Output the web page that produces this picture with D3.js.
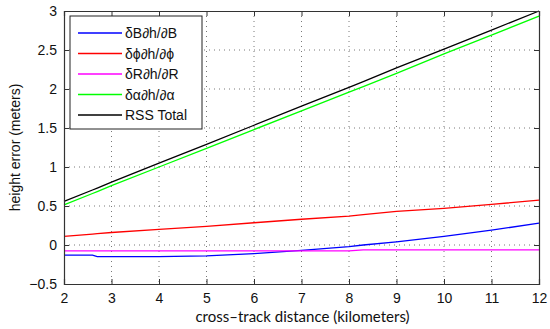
<!DOCTYPE html>
<html>
<head>
<meta charset="utf-8">
<script src="https://cdn.jsdelivr.net/npm/d3@7"></script>
<style>
  body { margin: 0; background: #fff; }
  svg { display: block; }
</style>
</head>
<body>
<div id="chart"></div>
<script>
// cross-track distance (km)
const distance = [2, 2.6, 2.7, 3, 4, 5, 6, 7, 8, 8.3, 9, 10, 11, 12];

const errB     = [-0.13, -0.13, -0.15, -0.15, -0.15, -0.14, -0.11, -0.07, -0.02, 0.0, 0.04, 0.11, 0.19, 0.28];
const errPhi   = [0.11, 0.14, 0.145, 0.16, 0.20, 0.24, 0.285, 0.33, 0.37, 0.39, 0.43, 0.47, 0.52, 0.575];
const errR     = [-0.075, -0.075, -0.075, -0.075, -0.075, -0.075, -0.075, -0.075, -0.075, -0.062, -0.062, -0.062, -0.062, -0.062];
const errAlpha = [0.515, 0.66, 0.685, 0.76, 1.0, 1.24, 1.48, 1.72, 1.96, 2.03, 2.2, 2.45, 2.69, 2.935];
const rssTotal = [0.56, 0.705, 0.73, 0.805, 1.05, 1.29, 1.535, 1.78, 2.02, 2.095, 2.27, 2.51, 2.755, 3.0];

const seriesNames = ["\u03B4B\u2202h/\u2202B", "\u03B4\u03D5\u2202h/\u2202\u03D5", "\u03B4R\u2202h/\u2202R", "\u03B4\u03B1\u2202h/\u2202\u03B1", "RSS Total"];
const seriesColors = ["#0000ff", "#ff0000", "#ff00ff", "#00ff00", "#000000"];
const seriesValues = [errB, errPhi, errR, errAlpha, rssTotal];

const xTicks = [2, 3, 4, 5, 6, 7, 8, 9, 10, 11, 12];
const yTicks = [-0.5, 0, 0.5, 1, 1.5, 2, 2.5, 3];

const width = 550, height = 329;
const margin = {top: 11, right: 11, bottom: 45, left: 64};
const iw = width - margin.left - margin.right;
const ih = height - margin.top - margin.bottom;

const svg = d3.select("#chart").append("svg")
    .attr("width", width)
    .attr("height", height);

const g = svg.append("g").attr("transform", `translate(${margin.left},${margin.top})`);

const x = d3.scaleLinear().domain([2, 12]).range([0, iw]);
const y = d3.scaleLinear().domain([-0.5, 3]).range([ih, 0]);

// dotted grid
g.append("g")
    .selectAll("line")
    .data(xTicks.slice(1, -1))
    .join("line")
    .attr("x1", d => x(d)).attr("x2", d => x(d))
    .attr("y1", 0).attr("y2", ih)
    .attr("stroke", "#555")
    .attr("stroke-width", 0.8)
    .attr("stroke-dasharray", "1,4");

g.append("g")
    .selectAll("line")
    .data(yTicks.slice(1, -1))
    .join("line")
    .attr("x1", 0).attr("x2", iw)
    .attr("y1", d => y(d)).attr("y2", d => y(d))
    .attr("stroke", "#555")
    .attr("stroke-width", 0.8)
    .attr("stroke-dasharray", "1,4");

// data lines
const line = d3.line()
    .x((d, i) => x(distance[i]))
    .y(d => y(d));

g.append("g")
    .attr("fill", "none")
    .selectAll("path")
    .data(seriesValues)
    .join("path")
    .attr("d", d => line(d))
    .attr("stroke", (d, i) => seriesColors[i])
    .attr("stroke-width", 1.3);

// axes with inward ticks on all sides
const axisFont = "Liberation Sans, Arial, sans-serif";
const xAxis = g.append("g")
    .attr("transform", `translate(0,${ih})`)
    .call(d3.axisBottom(x).tickValues(xTicks).tickSize(-5).tickPadding(9).tickFormat(d3.format("d")));
const yAxis = g.append("g")
    .call(d3.axisLeft(y).tickValues(yTicks).tickSize(-5).tickPadding(7).tickFormat(d => d === -0.5 ? "\u22120.5" : d3.format("")(d)));
g.append("g")
    .attr("transform", `translate(0,0)`)
    .call(d3.axisTop(x).tickValues(xTicks).tickSize(-5).tickFormat(""));
g.append("g")
    .attr("transform", `translate(${iw},0)`)
    .call(d3.axisRight(y).tickValues(yTicks).tickSize(-5).tickFormat(""));

g.selectAll(".domain").attr("stroke", "#333").attr("stroke-width", 1.2);
g.selectAll(".tick line").attr("stroke", "#333");
[xAxis, yAxis].forEach(a => a.selectAll("text")
    .attr("fill", "#111")
    .style("font-family", axisFont)
    .style("font-size", "14px"));

// axis labels
svg.append("text")
    .attr("x", margin.left + iw / 2 + 1)
    .attr("y", 322)
    .attr("text-anchor", "middle")
    .style("font-family", "Lato, sans-serif")
    .style("font-size", "15px")
    .attr("fill", "#111")
    .text("cross\u2013track distance (kilometers)");

svg.append("text")
    .attr("transform", `translate(20,${margin.top + ih / 2}) rotate(-90)`)
    .attr("text-anchor", "middle")
    .style("font-family", axisFont)
    .style("font-size", "14px")
    .attr("fill", "#111")
    .text("height error (meters)");

// legend
const legend = g.append("g").attr("transform", "translate(6,5)");
legend.append("rect")
    .attr("width", 132).attr("height", 113)
    .attr("fill", "#fff")
    .attr("stroke", "#222")
    .attr("stroke-width", 1);

const rows = legend.selectAll("g.row")
    .data(seriesNames)
    .join("g")
    .attr("class", "row")
    .attr("transform", (d, i) => `translate(0,${17 + i * 20.5})`);

rows.append("line")
    .attr("x1", 8).attr("x2", 52)
    .attr("stroke", (d, i) => seriesColors[i])
    .attr("stroke-width", 1.3);

rows.append("text")
    .attr("x", 55)
    .attr("dy", "0.36em")
    .style("font-family", axisFont)
    .style("font-size", "14px")
    .attr("fill", "#111")
    .text(d => d);
</script>
</body>
</html>
